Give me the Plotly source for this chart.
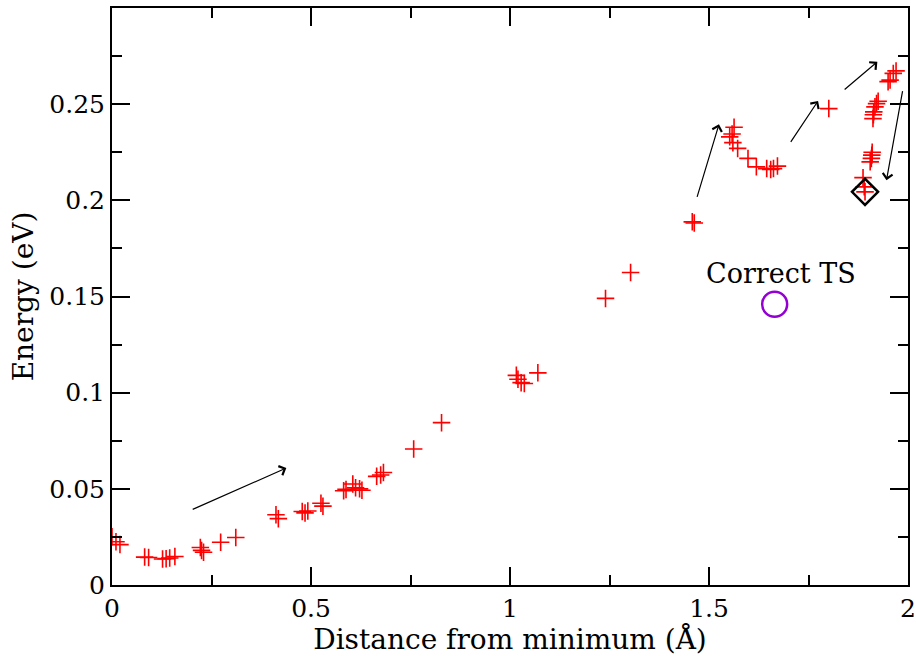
import plotly.graph_objects as go

# Path images: distance from the minimum vs. energy
distance = [
    0.000, 0.010, 0.020,
    0.082, 0.092, 0.127, 0.136, 0.145, 0.158,
    0.222, 0.225, 0.230, 0.273, 0.311,
    0.412, 0.418, 0.478, 0.485, 0.492, 0.525, 0.530,
    0.582, 0.588, 0.605, 0.612, 0.622, 0.628,
    0.665, 0.675, 0.682, 0.758, 0.828,
    1.016, 1.020, 1.028, 1.036, 1.070,
    1.240, 1.303, 1.458, 1.463,
    1.552, 1.558, 1.563, 1.560, 1.572, 1.598, 1.619, 1.645, 1.655, 1.662, 1.672,
    1.801,
    1.887, 1.890, 1.892,
    1.905, 1.908, 1.909, 1.910,
    1.912, 1.913, 1.914, 1.917, 1.921, 1.925,
    1.950, 1.955, 1.963, 1.970,
]
energy = [
    0.0251, 0.0225, 0.0210,
    0.0145, 0.0143, 0.0135, 0.0137, 0.0140, 0.0148,
    0.0195, 0.0180, 0.0170, 0.0222, 0.0247,
    0.0365, 0.0345, 0.0382, 0.0375, 0.0385, 0.0425, 0.0410,
    0.0490, 0.0497, 0.0525, 0.0505, 0.0500, 0.0493,
    0.0565, 0.0572, 0.0585, 0.0707, 0.0844,
    0.1090, 0.1070, 0.1052, 0.1048, 0.1103,
    0.1490, 0.1625, 0.1888, 0.1882,
    0.2330, 0.2345, 0.2380, 0.2300, 0.2270, 0.2218, 0.2174, 0.2165, 0.2160, 0.2165, 0.2178,
    0.2477,
    0.2118, 0.2070, 0.2044,
    0.2200, 0.2218, 0.2235, 0.2250,
    0.2425, 0.2445, 0.2460, 0.2486, 0.2503, 0.2515,
    0.2617, 0.2625, 0.2660, 0.2673,
]

# Highest point found along the path, and the correct transition state
found_ts_x = [1.892]
found_ts_y = [0.2044]
correct_ts_x = [1.665]
correct_ts_y = [0.146]
correct_ts_label = "Correct TS"

# Arrows showing the direction of the search: (tail x, tail y, head x, head y)
arrows = [
    (0.199, 0.0390, 0.438, 0.0608),
    (1.469, 0.2010, 1.525, 0.2395),
    (1.703, 0.2296, 1.774, 0.2517),
    (1.837, 0.2570, 1.923, 0.2720),
    (1.987, 0.2576, 1.946, 0.2105),
]

x_ticks = [0, 0.5, 1, 1.5, 2]
x_tick_text = ["0", "0.5", "1", "1.5", "2"]
y_ticks = [0, 0.05, 0.1, 0.15, 0.2, 0.25]
y_tick_text = ["0", "0.05", "0.1", "0.15", "0.2", "0.25"]

FONT = "DejaVu Serif"

fig = go.Figure()

fig.add_trace(go.Scatter(
    x=distance, y=energy, mode="markers",
    marker=dict(symbol="cross-thin", size=12.5,
                line=dict(color="red", width=1.6)),
    showlegend=False,
))

fig.add_trace(go.Scatter(
    x=correct_ts_x, y=correct_ts_y, mode="markers",
    marker=dict(symbol="circle-open", size=25,
                line=dict(color="#9400d3", width=2.5), color="#9400d3"),
    showlegend=False,
))

fig.add_trace(go.Scatter(
    x=found_ts_x, y=found_ts_y, mode="markers",
    marker=dict(symbol="diamond-open", size=20,
                line=dict(color="black", width=2.5), color="black"),
    showlegend=False,
))

annotations = []
for tx, ty, hx, hy in arrows:
    annotations.append(dict(
        x=hx, y=hy, ax=tx, ay=ty, xref="x", yref="y", axref="x", ayref="y",
        text="", showarrow=True, arrowhead=4, arrowsize=1.6, arrowwidth=1.2,
        arrowcolor="black", standoff=0, startstandoff=0,
    ))
annotations.append(dict(
    x=1.68, y=0.162, xref="x", yref="y", text=correct_ts_label,
    showarrow=False, font=dict(family=FONT, size=27, color="black"),
))

axis_common = dict(
    showline=True, linecolor="black", linewidth=2, mirror="allticks",
    ticks="inside", ticklen=18, tickwidth=1.5, tickcolor="black",
    showgrid=False, zeroline=False, automargin=False,
    tickfont=dict(family=FONT, size=25, color="black"),
)

fig.update_layout(
    width=916, height=656,
    margin=dict(l=112, r=8, t=8, b=71, autoexpand=False),
    paper_bgcolor="white", plot_bgcolor="white",
    annotations=annotations,
    xaxis=dict(
        range=[0, 2], tickvals=x_ticks, ticktext=x_tick_text,
        minor=dict(dtick=0.25, tick0=0, ticks="inside", ticklen=10,
                   tickwidth=1.5, tickcolor="black"),
        title=dict(text="Distance from minimum (Å)",
                   font=dict(family=FONT, size=28, color="black"), standoff=4),
        **axis_common,
    ),
    yaxis=dict(
        range=[0, 0.3], tickvals=y_ticks, ticktext=y_tick_text,
        minor=dict(dtick=0.025, tick0=0, ticks="inside", ticklen=10,
                   tickwidth=1.5, tickcolor="black"),
        title=dict(text="Energy (eV)",
                   font=dict(family=FONT, size=28, color="black"), standoff=8),
        **axis_common,
    ),
)

fig.write_html("out.html")
